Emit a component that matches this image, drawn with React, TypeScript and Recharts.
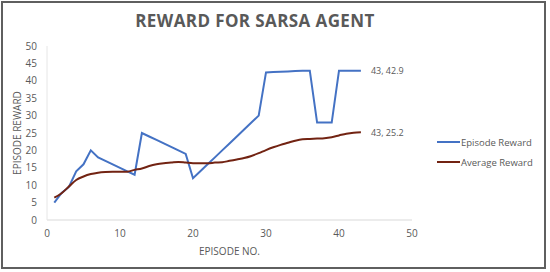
import React from "react";
import {
  LineChart,
  Line,
  XAxis,
  YAxis,
  Label,
} from "recharts";

// episode numbers 1..43
const episodes = [
  1, 2, 3, 4, 5, 6, 7, 8, 9, 10, 11, 12, 13, 14, 15, 16, 17, 18, 19, 20, 21,
  22, 23, 24, 25, 26, 27, 28, 29, 30, 31, 32, 33, 34, 35, 36, 37, 38, 39, 40,
  41, 42, 43,
];

const episodeReward = [
  5, 7.8, 9.5, 14, 16, 20, 18, 17, 16, 15, 14, 13, 25, 24, 23, 22, 21, 20, 19,
  12, 14, 16, 18, 20, 22, 24, 26, 28, 30, 42.4, 42.5, 42.6, 42.7, 42.8, 42.9,
  42.9, 28, 28, 28, 42.9, 42.9, 42.9, 42.9,
];

const averageReward = [
  6.4, 7.7, 9.6, 11.5, 12.5, 13.2, 13.6, 13.8, 13.9, 13.9, 13.9, 14.4, 14.8,
  15.5, 16, 16.3, 16.5, 16.7, 16.5, 16.3, 16.3, 16.3, 16.5, 16.6, 17, 17.4,
  17.8, 18.4, 19.2, 20.1, 20.9, 21.6, 22.2, 22.8, 23.2, 23.3, 23.4, 23.5, 23.8,
  24.3, 24.8, 25.1, 25.2,
];

const xTicks = [0, 10, 20, 30, 40, 50];
const yTicks = [0, 5, 10, 15, 20, 25, 30, 35, 40, 45, 50];

const data = episodes.map((ep, i) => ({
  episode: ep,
  episodeReward: episodeReward[i],
  averageReward: averageReward[i],
}));

const BLUE = "#4472C4";
const RED = "#722312";
const GRAY = "#595959";
const FONT = "'Open Sans', sans-serif";

// label only the last point, like "43, 42.9"
const EndLabel = (props: any) => {
  const { x, y, index, value } = props;
  if (index !== data.length - 1) return null;
  return (
    <text x={x + 10} y={y} dy={3.5} fontSize={9} fill={GRAY} fontFamily={FONT}>
      {`${data[index].episode}, ${value}`}
    </text>
  );
};

const legendItems = [
  { label: "Episode Reward", color: BLUE },
  { label: "Average Reward", color: RED },
];

export default function App() {
  return (
    <div style={{ position: "fixed", left: 0, top: 0, width: 550, height: 272, background: "#fff" }}>
      <div
        style={{
          position: "absolute",
          left: 1,
          top: 1,
          width: 545,
          height: 268,
          boxSizing: "border-box",
          border: "2px solid #5f5f5f",
        }}
      />
      <div
        style={{
          position: "absolute",
          left: 0,
          width: 510,
          top: 9,
          textAlign: "center",
          fontFamily: FONT,
          fontWeight: 700,
          fontSize: 17,
          color: GRAY,
          letterSpacing: 0.4,
        }}
      >
        REWARD FOR SARSA AGENT
      </div>
      <div style={{ position: "absolute", left: 0, top: 0 }}>
        <LineChart
          width={550}
          height={272}
          data={data}
          margin={{ top: 46, right: 138, bottom: 22, left: 0 }}
        >
          <XAxis
            dataKey="episode"
            type="number"
            domain={[0, 50]}
            ticks={xTicks}
            interval={0}
            tickLine={false}
            tickSize={0}
            tickMargin={10}
            height={30}
            stroke="#d9d9d9"
            tick={{ fill: GRAY, fontSize: 10, fontFamily: FONT }}
          >
            <Label
              value="EPISODE NO."
              position="bottom"
              offset={-2}
              style={{ fill: GRAY, fontSize: 10, fontFamily: FONT }}
            />
          </XAxis>
          <YAxis
            type="number"
            domain={[0, 50]}
            ticks={yTicks}
            interval={0}
            tickLine={false}
            tickSize={0}
            tickMargin={10}
            width={47}
            stroke="#e6e6e6"
            tick={{ fill: GRAY, fontSize: 10, fontFamily: FONT }}
          >
            <Label
              value="EPISODE REWARD"
              angle={-90}
              position="insideLeft"
              offset={17}
              style={{ fill: GRAY, fontSize: 10, fontFamily: FONT, textAnchor: "middle" }}
            />
          </YAxis>
          <Line
            type="linear"
            dataKey="episodeReward"
            stroke={BLUE}
            strokeWidth={2}
            dot={false}
            isAnimationActive={false}
            label={<EndLabel />}
          />
          <Line
            type="monotone"
            dataKey="averageReward"
            stroke={RED}
            strokeWidth={2}
            dot={false}
            isAnimationActive={false}
            label={<EndLabel />}
          />
        </LineChart>
      </div>
      <div
        style={{
          position: "absolute",
          left: 437,
          top: 132,
          fontFamily: FONT,
          fontSize: 9.5,
          color: GRAY,
        }}
      >
        {legendItems.map((it) => (
          <div key={it.label} style={{ display: "flex", alignItems: "center", height: 20 }}>
            <svg width={23} height={4}>
              <line x1={0} y1={2} x2={23} y2={2} stroke={it.color} strokeWidth={2} />
            </svg>
            <span style={{ marginLeft: 1 }}>{it.label}</span>
          </div>
        ))}
      </div>
    </div>
  );
}
